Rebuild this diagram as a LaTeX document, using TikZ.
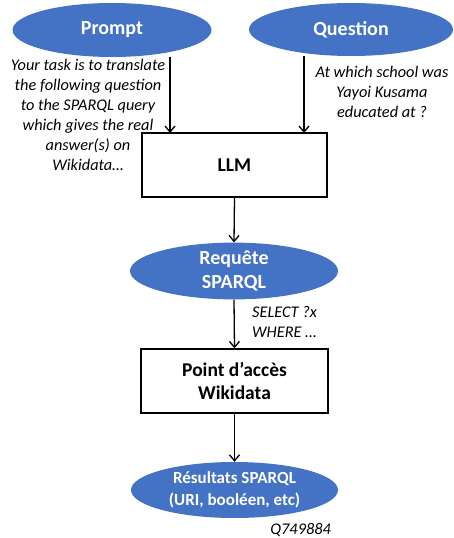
\documentclass[tikz,border=0pt]{standalone}
\usepackage{fontspec}
\setmainfont{Carlito}
\usetikzlibrary{shapes.geometric,arrows.meta}
\definecolor{oblue}{HTML}{4472C4}
\tikzset{
  blob/.style={ellipse, fill=oblue, draw=none, text=white, font=\bfseries\fontsize{20}{24}\selectfont, inner sep=0pt, align=center},
  boxn/.style={rectangle, draw=black, line width=1.3pt, fill=white, font=\bfseries\fontsize{19.5}{23}\selectfont, align=center, inner sep=0pt},
  note/.style={font=\itshape\fontsize{16.3}{20}\selectfont, align=center, inner sep=0pt},
  arr/.style={-{Straight Barb[length=6pt,width=10pt,line width=1.3pt]}, line width=1.3pt},
}
\begin{document}
\begin{tikzpicture}[x=1pt,y=-1pt]
\useasboundingbox (0,0) rectangle (454,538);
\node[blob, minimum width=199pt, minimum height=54pt] (prompt) at (112,30) {Prompt};
\node[blob, minimum width=204pt, minimum height=53pt] (question) at (351,29.5) {Question};
\node[boxn, minimum width=185pt, minimum height=64pt] (llm) at (234.5,165) {LLM};
\node[blob, minimum width=208pt, minimum height=56pt] (req) at (234,271) {Requête\\SPARQL};
\node[boxn, minimum width=187pt, minimum height=64pt] (pt) at (234.5,381) {Point d’accès\\Wikidata};
\node[blob, minimum width=207pt, minimum height=56pt, font=\bfseries\fontsize{17}{22}\selectfont] (res) at (234.5,490) {Résultats SPARQL\\(URI, booléen, etc)};
\coordinate (pin) at (170,133);
\coordinate (qin) at (304,133);
\coordinate (pout) at (170,57);
\coordinate (qout) at (304,56);
\draw[arr] (pout) -- (pin);
\draw[arr] (qout) -- (qin);
\draw[arr] (llm.south) -- (req.north);
\draw[arr] (req.south) -- (pt.north);
\draw[arr] (pt.south) -- (res.north);
\node[note, anchor=north] (ptext) at (88,59) {Your task is to translate\\the following question\\to the SPARQL query\\which gives the real\\answer(s) on\\Wikidata…};
\node[note, anchor=north] (qtext) at (382,66) {At which school was\\Yayoi Kusama\\educated at ?};
\node[note, anchor=north west, align=left] (sel) at (252,306) {SELECT ?x\\WHERE …};
\node[note, anchor=north east] (qid) at (331,523) {Q749884};
\end{tikzpicture}
\end{document}
